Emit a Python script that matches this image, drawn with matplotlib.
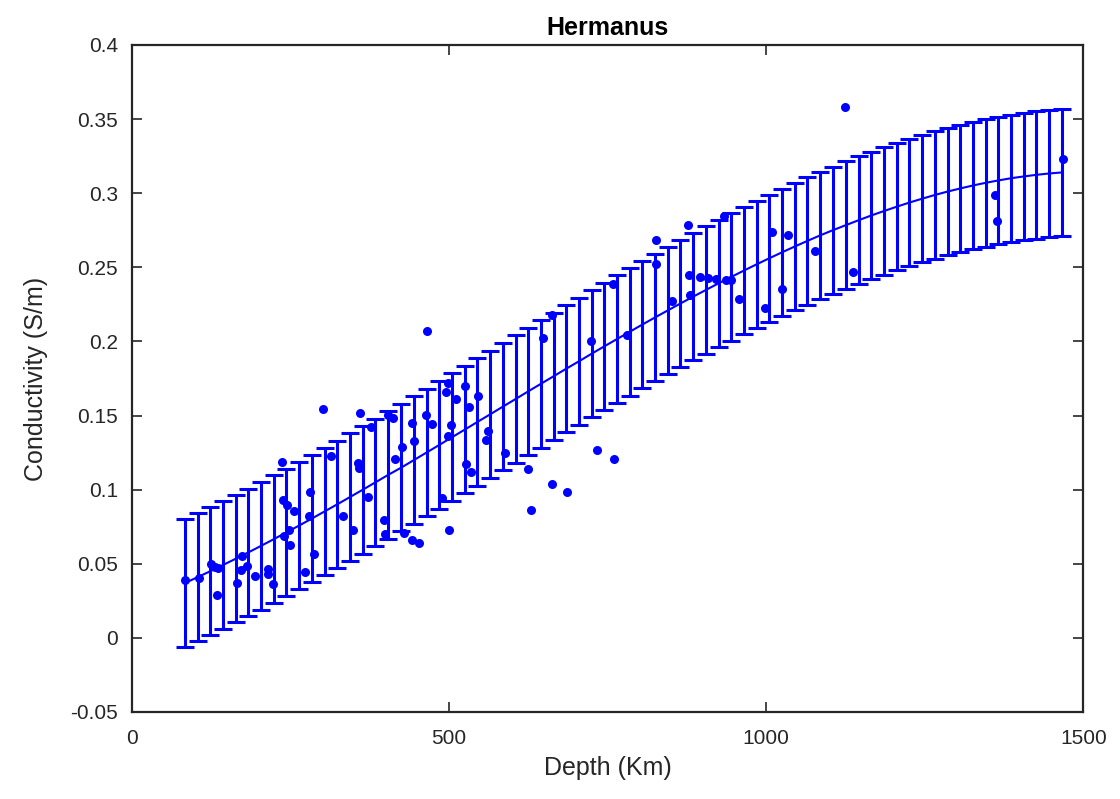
import numpy as np
import matplotlib
matplotlib.use("Agg")
import matplotlib.pyplot as plt

plt.rcParams['font.family'] = ['Liberation Sans', 'DejaVu Sans']

# measured points (depth in km, conductivity in S/m)
depth = [84.0, 106.1, 124.2, 131.3, 136.8, 134.5, 165.2, 173.1, 172.3, 182.5,
         195.1, 214.8, 214.8, 222.3, 236.4, 238.5, 245.3, 256.6, 239.6, 248.4,
         249.5, 273.6, 281.5, 280.0, 288.1, 302.3, 314.5, 332.3, 349.6, 359.9,
         356.2, 358.8, 372.5, 377.2, 397.7, 399.3, 404.5, 411.4, 414.6, 426.1,
         429.7, 441.4, 441.4, 445.0, 453.2, 465.0, 463.9, 473.4, 489.9, 495.4,
         499.1, 499.1, 500.2, 502.8, 511.2, 525.4, 526.5, 532.2, 534.8, 545.4,
         558.0, 561.2, 588.9, 624.2, 628.9, 647.9, 662.0, 662.5, 686.6, 723.5,
         734.2, 759.1, 760.7, 781.5, 826.4, 826.4, 852.0, 877.4, 878.2, 879.3,
         895.8, 908.4, 921.0, 937.3, 944.2, 934.1, 957.8, 997.8, 1010.1, 1034.0,
         1024.6, 1077.4, 1124.4, 1136.5, 1360.8, 1364.0, 1468.0]
cond = [0.0389, 0.0402, 0.0497, 0.0476, 0.0470, 0.0291, 0.0369, 0.0554, 0.0456, 0.0487,
        0.0416, 0.0466, 0.0433, 0.0362, 0.1184, 0.0928, 0.0899, 0.0858, 0.0687, 0.0726,
        0.0629, 0.0445, 0.0985, 0.0820, 0.0567, 0.1544, 0.1224, 0.0820, 0.0730, 0.1514,
        0.1177, 0.1144, 0.0953, 0.1422, 0.0798, 0.0699, 0.1501, 0.1485, 0.1209, 0.1287,
        0.0706, 0.0658, 0.1451, 0.1325, 0.0638, 0.2073, 0.1501, 0.1445, 0.0945, 0.1658,
        0.1718, 0.1359, 0.0731, 0.1438, 0.1613, 0.1696, 0.1175, 0.1557, 0.1119, 0.1635,
        0.1337, 0.1393, 0.1247, 0.1137, 0.0865, 0.2024, 0.2175, 0.1038, 0.0984, 0.2006,
        0.1265, 0.2390, 0.1209, 0.2044, 0.2687, 0.2523, 0.2270, 0.2788, 0.2451, 0.2314,
        0.2437, 0.2429, 0.2423, 0.2416, 0.2415, 0.2848, 0.2284, 0.2227, 0.2741, 0.2720,
        0.2356, 0.2613, 0.3583, 0.2471, 0.2990, 0.2815, 0.3232]

# fitted curve with error bars
fit_depth = [84, 104, 124, 144, 164, 184, 204, 224, 244, 264,
             284, 304, 324, 344, 364, 384, 404, 425, 445, 465,
             485, 505, 525, 545, 565, 585, 605, 625, 645, 665,
             685, 705, 725, 745, 765, 785, 805, 825, 845, 865,
             885, 905, 925, 945, 965, 985, 1005, 1025, 1045, 1065,
             1085, 1105, 1126, 1146, 1166, 1186, 1206, 1226, 1246, 1266,
             1286, 1306, 1326, 1346, 1366, 1386, 1406, 1426, 1446, 1466]
fit_cond = [0.0370, 0.0410, 0.0450, 0.0492, 0.0534, 0.0577, 0.0621, 0.0666, 0.0712, 0.0758,
            0.0805, 0.0853, 0.0901, 0.0950, 0.0999, 0.1049, 0.1099, 0.1149, 0.1200, 0.1251,
            0.1302, 0.1354, 0.1405, 0.1457, 0.1508, 0.1560, 0.1611, 0.1663, 0.1714, 0.1765,
            0.1816, 0.1866, 0.1917, 0.1967, 0.2016, 0.2065, 0.2114, 0.2162, 0.2209, 0.2256,
            0.2302, 0.2347, 0.2392, 0.2435, 0.2478, 0.2520, 0.2561, 0.2601, 0.2640, 0.2678,
            0.2715, 0.2750, 0.2785, 0.2818, 0.2850, 0.2880, 0.2909, 0.2937, 0.2963, 0.2988,
            0.3011, 0.3032, 0.3052, 0.3070, 0.3086, 0.3101, 0.3113, 0.3124, 0.3133, 0.3140]
fit_err = [0.043] * len(fit_depth)

fig = plt.figure(figsize=(11.2, 7.99), dpi=100)
ax = fig.add_axes([0.1176, 0.1089, 0.8496, 0.8348])

ax.errorbar(fit_depth, fit_cond, yerr=fit_err, color=(0, 0, 1), linewidth=1.5,
            elinewidth=2.2, capsize=6.8, capthick=2.2)
ax.plot(depth, cond, 'o', color=(0, 0, 1), markersize=6.5, markeredgewidth=0)

ax.set_xlim(0, 1500)
ax.set_ylim(-0.05, 0.4)
ax.set_xticks([0, 500, 1000, 1500])
ax.set_yticks(np.arange(-0.05, 0.401, 0.05))
ax.set_yticklabels(['-0.05', '0', '0.05', '0.1', '0.15', '0.2', '0.25', '0.3', '0.35', '0.4'])
ax.tick_params(direction='in', length=7, width=1.2, top=True, right=True,
               labelsize=15, colors=(0.15, 0.15, 0.15))
ax.tick_params(axis='x', pad=12)
ax.tick_params(axis='y', pad=10)
for s in ax.spines.values():
    s.set_linewidth(1.6)
    s.set_color((0.15, 0.15, 0.15))

ax.set_xlabel('Depth (Km)', fontsize=18, color=(0.15, 0.15, 0.15), labelpad=6)
ax.set_ylabel('Conductivity (S/m)', fontsize=18, color=(0.15, 0.15, 0.15), labelpad=16)
ax.set_title('Hermanus', fontsize=18, fontweight='bold', pad=7)

plt.savefig('out.png', dpi=100)
